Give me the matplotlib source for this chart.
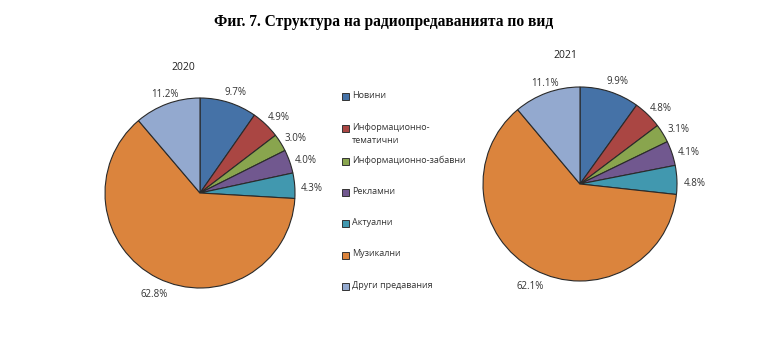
import matplotlib.pyplot as plt
from matplotlib.patches import Rectangle

plt.rcParams['font.family'] = ['Open Sans', 'DejaVu Sans']

# Данни
categories = ['Новини', 'Информационно-\nтематични', 'Информационно-забавни',
              'Рекламни', 'Актуални', 'Музикални', 'Други предавания']
values_2020 = [9.7, 4.9, 3.0, 4.0, 4.3, 62.8, 11.2]
values_2021 = [9.9, 4.8, 3.1, 4.1, 4.8, 62.1, 11.1]
colors = ['#4572A7', '#AA4643', '#89A54E', '#71588F', '#4198AF', '#DB843D', '#93A9CF']

W, H = 768, 346
fig = plt.figure(figsize=(W / 100, H / 100), dpi=100)


def pie_axes(cx, cy, r, lim=1.35):
    side = 2 * r * lim
    return fig.add_axes([(cx - side / 2) / W, (H - cy - side / 2) / H, side / W, side / H])


def draw_pie(ax, vals, year, year_xy):
    ax.pie(vals, colors=colors, startangle=90, counterclock=False,
           labels=[f'{v:.1f}%' for v in vals], labeldistance=1.15,
           wedgeprops=dict(edgecolor='#2a2a2a', linewidth=0.8),
           textprops=dict(fontsize=7, color='#333333', va='center'))
    for t in ax.texts:
        t.set_horizontalalignment('center')
        # подписите в оригинала са леко под радиалната позиция
        x, y = t.get_position()
        t.set_position((x + 0.03, y - 0.04))
    ax.set_xlim(-1.35, 1.35)
    ax.set_ylim(-1.35, 1.35)
    ax.set_aspect('equal')
    ax.axis('off')
    fig.text(year_xy[0] / W, 1 - year_xy[1] / H, year, fontsize=7.5,
             color='#222222', ha='center', va='center')


ax1 = pie_axes(200, 193, 95)
draw_pie(ax1, values_2020, '2020', (183, 67))
ax2 = pie_axes(580, 184, 97)
draw_pie(ax2, values_2021, '2021', (565, 55))

# Легенда
y0, step = 97, 31.3
for i, (name, c) in enumerate(zip(categories, colors)):
    y = y0 + step * i + (1.5 if i >= 2 else 0)
    fig.patches.append(Rectangle((342 / W, 1 - (y + 3.5) / H), 7 / W, 7 / H,
                                 transform=fig.transFigure, facecolor=c,
                                 edgecolor='#333333', linewidth=0.7))
    fig.text(352 / W, 1 - (y - 5.5) / H, name, fontsize=6.5, color='#333333',
             ha='left', va='top', linespacing=1.65)

fig.text(0.5, 1 - 22 / H, 'Фиг. 7. Структура на радиопредаванията по вид',
         family='Liberation Serif', fontweight='bold', fontsize=11.2,
         ha='center', va='center')

fig.savefig('out.png', dpi=100)
